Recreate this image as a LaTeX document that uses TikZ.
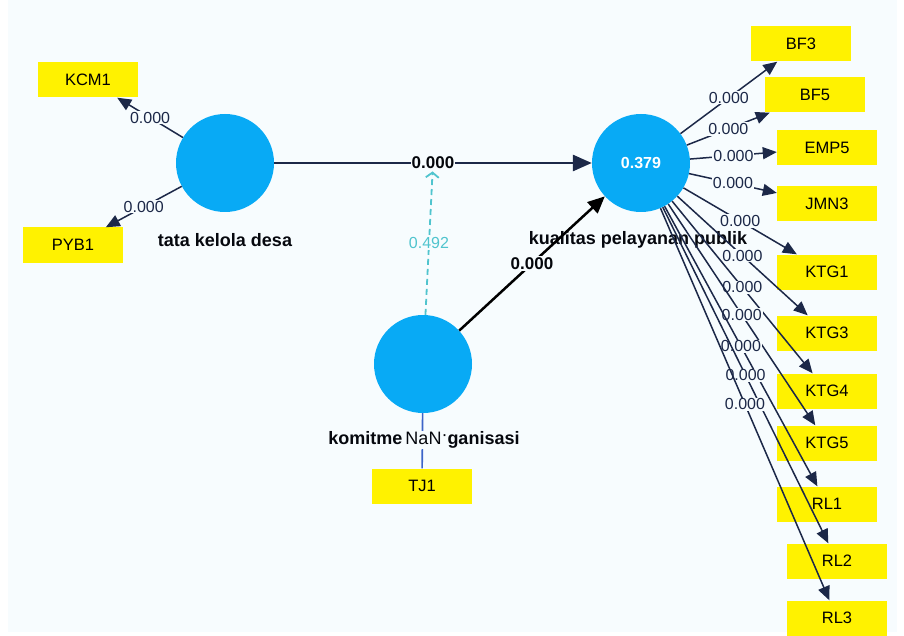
\documentclass[tikz,border=0pt]{standalone}
\usepackage{fontspec}
\setmainfont{Liberation Sans}
\usetikzlibrary{arrows.meta}
\definecolor{bgc}{RGB}{247,252,254}
\definecolor{lvc}{RGB}{8,170,245}
\definecolor{navy}{RGB}{28,40,72}
\definecolor{tealc}{RGB}{80,196,206}
\definecolor{indblue}{RGB}{60,100,200}
\begin{document}
\begin{tikzpicture}[x=1pt,y=-1pt,
 lv/.style={circle,fill=lvc,minimum size=98pt,inner sep=0pt,text=white,font=\fontsize{16}{18}\selectfont\bfseries},
 ind/.style={fill=yellow,minimum width=100pt,minimum height=35pt,inner sep=0pt,font=\fontsize{16.5}{18}\selectfont},
 lvname/.style={font=\fontsize{18}{20}\selectfont\bfseries,text=black!80!navy},
 ld/.style={draw=navy,line width=1.5pt,-{Triangle[length=14pt,width=12pt]}},
 coef/.style={font=\fontsize{16}{18}\selectfont,text=navy,fill=bgc,inner sep=1pt},
 coefb/.style={font=\fontsize{17}{18}\selectfont\bfseries,text=black!85!navy,fill=bgc,inner sep=1pt},
 mainpath/.style={draw=navy,line width=2.8pt,-{Triangle[length=19pt,width=16pt]}},
 sndpath/.style={draw=black,line width=2.5pt,-{Triangle[length=17pt,width=15pt]}},
 modpath/.style={draw=tealc,line width=1.8pt,dash pattern=on 6pt off 4pt,-{Straight Barb[length=5pt,width=13pt]}},
 indline/.style={draw=indblue,line width=1.6pt}]
\useasboundingbox (0,0) rectangle (904,636);
\fill[white] (0,0) rectangle (904,636);
\fill[bgc] (8,0) rectangle (897,632);

% label under lines
\node[lvname] (kppL) at (638,240) {kualitas pelayanan publik};
\node[lvname] (tkdL) at (225,240) {tata kelola desa};

% latent variables
\node[lv] (tkd) at (225,163) {};
\node[lv] (kpp) at (641,163) {0.379};
\node[lv] (kom) at (423,364) {};

% indicators
\node[ind] (KCM1) at (88,80) {KCM1};
\node[ind] (PYB1) at (73,245) {PYB1};
\node[ind] (TJ1) at (422,486) {TJ1};
\node[ind] (BF3) at (801,44) {BF3};
\node[ind] (BF5) at (815,95) {BF5};
\node[ind] (EMP5) at (827,148) {EMP5};
\node[ind] (JMN3) at (827,204) {JMN3};
\node[ind] (KTG1) at (827,272) {KTG1};
\node[ind] (KTG3) at (827,333) {KTG3};
\node[ind] (KTG4) at (827,391) {KTG4};
\node[ind] (KTG5) at (827,443) {KTG5};
\node[ind] (RL1) at (827,504) {RL1};
\node[ind] (RL2) at (837,561) {RL2};
\node[ind] (RL3) at (837,618) {RL3};

% structural paths
\draw[mainpath] (tkd) -- node[coefb] (m) {0.000} (kpp);
\draw[modpath] (kom) -- node[coef,text=tealc] {0.492} (m);
\draw[sndpath] (kom) -- node[coefb] {0.000} (kpp);

% outer loadings
\draw[ld] (tkd) -- node[coef] {0.000} (KCM1);
\draw[ld] (tkd) -- node[coef] {0.000} (PYB1);
\draw[indline] (kom) -- (TJ1);
\draw[ld] (kpp) -- node[coef] {0.000} (BF3);
\draw[ld] (kpp) -- node[coef] {0.000} (BF5);
\draw[ld] (kpp) -- node[coef] {0.000} (EMP5);
\draw[ld] (kpp) -- node[coef] {0.000} (JMN3);
\draw[ld] (kpp) -- node[coef] {0.000} (KTG1);
\draw[ld] (kpp) -- node[coef] {0.000} (KTG3);
\draw[ld] (kpp) -- node[coef] {0.000} (KTG4);
\draw[ld] (kpp) -- node[coef] {0.000} (KTG5);
\draw[ld] (kpp) -- node[coef] {0.000} (RL1);
\draw[ld] (kpp) -- node[coef] {0.000} (RL2);
\draw[ld] (kpp) -- node[coef] {0.000} (RL3);

% komitmen label on top of its indicator line
\node[lvname,fill=bgc,inner sep=1pt] (komL) at (424,440) {komitme\,{\mdseries NaN\raisebox{0.45ex}{·}}ganisasi};
\end{tikzpicture}
\end{document}
